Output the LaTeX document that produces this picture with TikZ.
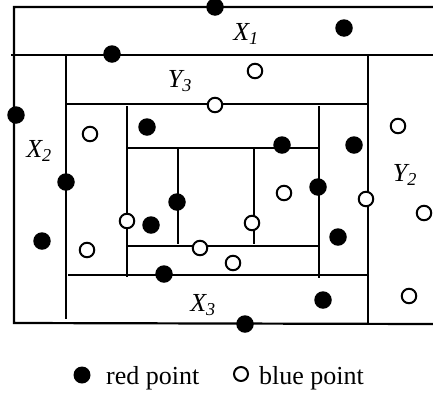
\documentclass[tikz,border=0pt]{standalone}
\usepackage{fontspec}
\setmainfont{Liberation Serif}
\begin{document}
\begin{tikzpicture}[x=1pt,y=-1pt,
  wall/.style={line width=2.2pt,line cap=rect},
  redpt/.style={circle,fill=black,inner sep=0pt,minimum size=17.5pt},
  bluept/.style={circle,draw=black,fill=white,line width=2pt,inner sep=0pt,minimum size=14.5pt},
  lab/.style={font=\fontsize{26}{28}\selectfont\itshape,inner sep=0pt},
  leg/.style={font=\fontsize{26}{28}\selectfont,inner sep=0pt,anchor=base west}]
\useasboundingbox (0,0) rectangle (433,394);
% frame
\coordinate (tl) at (14,7); \coordinate (tr) at (433,7);
\coordinate (bl) at (14,323); \coordinate (br) at (433,324);
\draw[wall] (tr) -- (tl) -- (bl) -- (br);
% second horizontal
\coordinate (h2l) at (12,55); \coordinate (h2r) at (433,55);
\draw[wall] (h2l) -- (h2r);
% left inner vertical
\coordinate (v1t) at (66,55); \coordinate (v1b) at (66,318);
\draw[wall] (v1t) -- (v1b);
% Y3 bottom and right vertical
\coordinate (h3l) at (66,104); \coordinate (h3r) at (368,104);
\draw[wall] (h3l) -- (h3r);
\coordinate (v2t) at (368,55); \coordinate (v2b) at (368,324);
\draw[wall] (v2t) -- (v2b);
% inner box
\coordinate (v3t) at (127,107); \coordinate (v3b) at (127,276);
\draw[wall] (v3t) -- (v3b);
\coordinate (v4t) at (319,107); \coordinate (v4b) at (319,277);
\draw[wall] (v4t) -- (v4b);
\coordinate (h4l) at (127,148); \coordinate (h4r) at (319,148);
\draw[wall] (h4l) -- (h4r);
\coordinate (v5t) at (178,148); \coordinate (v5b) at (178,243);
\draw[wall] (v5t) -- (v5b);
\coordinate (v6t) at (254,148); \coordinate (v6b) at (254,243);
\draw[wall] (v6t) -- (v6b);
\coordinate (h5l) at (127,246); \coordinate (h5r) at (319,246);
\draw[wall] (h5l) -- (h5r);
\coordinate (h6l) at (69,275); \coordinate (h6r) at (366,275);
\draw[wall] (h6l) -- (h6r);
% red points
\node[redpt] (r1) at (215,7) {};
\node[redpt] (r2) at (344,28) {};
\node[redpt] (r3) at (112,54) {};
\node[redpt] (r4) at (16,115) {};
\node[redpt] (r5) at (147,127) {};
\node[redpt] (r6) at (282,145) {};
\node[redpt] (r7) at (354,145) {};
\node[redpt] (r8) at (66,182) {};
\node[redpt] (r9) at (318,187) {};
\node[redpt] (r10) at (177,202) {};
\node[redpt] (r11) at (151,225) {};
\node[redpt] (r12) at (42,241) {};
\node[redpt] (r13) at (338,237) {};
\node[redpt] (r14) at (164,274) {};
\node[redpt] (r15) at (323,300) {};
\node[redpt] (r16) at (245,324) {};
% blue points
\node[bluept] (b1) at (255,71) {};
\node[bluept] (b2) at (215,105) {};
\node[bluept] (b3) at (398,126) {};
\node[bluept] (b4) at (90,134) {};
\node[bluept] (b5) at (284,193) {};
\node[bluept] (b6) at (366,199) {};
\node[bluept] (b7) at (424,213) {};
\node[bluept] (b8) at (127,221) {};
\node[bluept] (b9) at (252,223) {};
\node[bluept] (b10) at (200,248) {};
\node[bluept] (b11) at (87,250) {};
\node[bluept] (b12) at (233,263) {};
\node[bluept] (b13) at (409,296) {};
% labels
\node[lab] (x1) at (246,34) {X\textsubscript{1}};
\node[lab] (y3) at (180,81) {Y\textsubscript{3}};
\node[lab] (x2) at (39,151) {X\textsubscript{2}};
\node[lab] (y2) at (405,175) {Y\textsubscript{2}};
\node[lab] (x3) at (203,305) {X\textsubscript{3}};
% legend
\node[redpt,minimum size=17pt] (lr) at (82,375) {};
\node[leg] (lrt) at (106,384) {red point};
\node[bluept,minimum size=14pt] (lb) at (241,374) {};
\node[leg] (lbt) at (259,384) {blue point};
\end{tikzpicture}
\end{document}
